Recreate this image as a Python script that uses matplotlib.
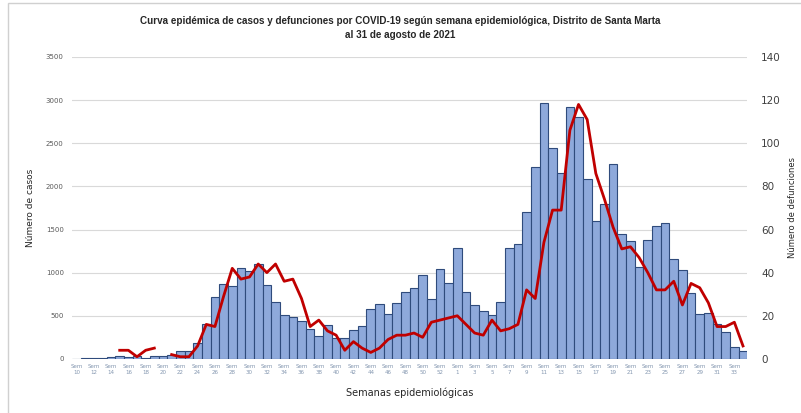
import matplotlib.pyplot as plt
import matplotlib.patches as mpatches
import numpy as np

# epidemiological weeks: 2020 wk 10-53, 2021 wk 1-34
weeks = list(range(10, 54)) + list(range(1, 35))

cases = [4, 5, 8, 12, 20, 35, 20, 30, 8, 30,
         30, 50, 90, 90, 185, 405, 715, 865, 840, 1050,
         1020, 1100, 860, 655, 510, 485, 440, 345, 270, 390,
         245, 245, 340, 380, 575, 635, 525, 650, 775, 820,
         970, 700, 1045, 875,
         1290, 770, 620, 550, 510, 655, 1290, 1330, 1705, 2230,
         2965, 2450, 2150, 2920, 2810, 2090, 1600, 1790, 2265, 1445,
         1370, 1065, 1380, 1540, 1570, 1160, 1030, 760, 525, 535,
         410, 315, 140, 90]

deaths = [None, None, None, None, None, 4, 4, 1, 4, 5,
          None, 2, 1, 1, 6, 16, 15, 29, 42, 37,
          38, 44, 40, 44, 36, 37, 28, 15, 18, 13,
          11, 4, 8, 5, 3, 5, 9, 11, 11, 12,
          10, 17, 18, 19,
          20, 16, 12, 11, 18, 13, 14, 16, 32, 28,
          54, 69, 69, 106, 118, 111, 86, 74, 61, 51,
          52, 47, 40, 32, 32, 36, 25, 35, 33, 26,
          15, 15, 17, 6]

x = np.arange(len(weeks))
deaths_arr = np.array([np.nan if d is None else d for d in deaths], dtype=float)

fig = plt.figure(figsize=(8.01, 4.13), dpi=100)
ax = fig.add_axes([0.090, 0.131, 0.843, 0.731])

ax.bar(x, cases, width=1.0, color='#8EA9DB', edgecolor='#2F4B7C', linewidth=0.8, zorder=2)
ax.set_xlim(-0.5, len(weeks) - 0.5)
ax.set_ylim(0, 3500)
ax.set_yticks(np.arange(0, 3501, 500))
ax.yaxis.grid(True, color='#D9D9D9', linewidth=0.8)
ax.set_axisbelow(True)

ax.set_xticks(x[::2])
ax.set_xticklabels([f'Sem\n{w}' for w in weeks[::2]], fontsize=4, color='#8497B0', linespacing=1.3)
ax.tick_params(axis='both', length=0)
ax.tick_params(axis='y', labelsize=5, labelcolor='#595959', pad=6)
for s in ax.spines.values():
    s.set_visible(False)

ax.set_ylabel('Número de casos', fontsize=6.5, color='#262626', labelpad=8)
ax.set_xlabel('Semanas epidemiológicas', fontsize=7, color='#262626', labelpad=9)

ax2 = ax.twinx()
ax2.plot(x, deaths_arr, color='#C00000', linewidth=2, zorder=3)
ax2.set_ylim(0, 140)
ax2.set_yticks(np.arange(0, 141, 20))
ax2.tick_params(axis='y', length=0, labelsize=7.5, labelcolor='#404040', pad=10)
for s in ax2.spines.values():
    s.set_visible(False)
ax2.set_ylabel('Número de defunciones', fontsize=6, color='#262626', labelpad=5)

fig.text(0.5, 0.932, 'Curva epidémica de casos y defunciones por COVID-19 según semana epidemiológica, Distrito de Santa Marta\nal 31 de agosto de 2021',
         ha='center', va='center', fontsize=7.1, fontweight='bold', color='#262626',
         linespacing=1.6, family=['Liberation Sans', 'DejaVu Sans'])

fig.patches.append(mpatches.Rectangle((0.01, -0.05), 1.1, 1.043, transform=fig.transFigure,
                                      fill=False, edgecolor='#D0D0D0', linewidth=1))

fig.savefig('out.png', dpi=100)
